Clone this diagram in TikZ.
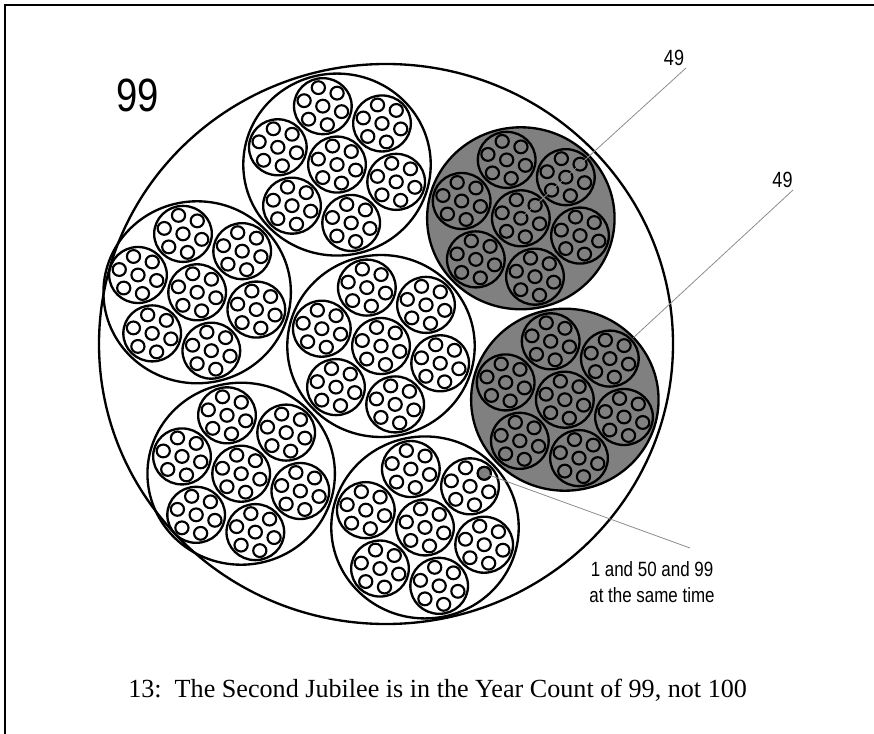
\documentclass[tikz,border=0pt]{standalone}
\usepackage{fontspec}
\setmainfont{Liberation Serif}
\newfontfamily\narrowfont[FakeStretch=0.82]{Liberation Sans}
\definecolor{midgray}{RGB}{128,128,128}
\definecolor{leadgray}{RGB}{140,140,140}
\begin{document}
\begin{tikzpicture}[x=0.75pt,y=-0.75pt,
  ring/.style={draw=black,line width=1.75pt},
  tinyring/.style={draw=black,line width=1.6pt},
  leader/.style={draw=leadgray,line width=0.6pt},
  bignum/.style={font=\narrowfont\fontsize{35}{38}\selectfont,inner sep=0pt,anchor=base},
  smallnum/.style={font=\narrowfont\fontsize{16.5}{18}\selectfont,inner sep=0pt,anchor=base},
  note/.style={font=\narrowfont\fontsize{15.5}{18}\selectfont,inner sep=0pt,anchor=base},
  caption/.style={font=\fontsize{19.6}{22}\selectfont,inner sep=0pt,anchor=base west}]
\useasboundingbox (0,0) rectangle (874,734);
\draw[line width=1.5pt] (5,734) -- (5,5) -- (874,5);
\begin{scope}[shift={(386,344)},xscale=1.025]
  \draw[ring] (0,0) circle (280);
\end{scope}
\begin{scope}[shift={(381,346)},xscale=1.03]
  \fill[midgray] (-43.25:186.4) circle (91);
  \fill[midgray] (16.75:186.4) circle (91);
  \foreach \a/\k in {0/0,-43.25/1,16.75/1,76.75/1,136.75/1,196.75/1,256.75/1}{
    \begin{scope}[shift={(\a:{\k*186.4})}]
      \draw[ring] (0,0) circle (91);
      \foreach \b/\m in {0/0,-43.25/1,16.75/1,76.75/1,136.75/1,196.75/1,256.75/1}{
        \begin{scope}[shift={(\b:{\m*60})}]
          \draw[ring] (0,0) circle (28);
          \foreach \c/\n in {0/0,-43.25/1,16.75/1,76.75/1,136.75/1,196.75/1,256.75/1}{
            \draw[tinyring] (\c:{\n*19}) circle (6.4);
          }
        \end{scope}
      }
    \end{scope}
  }
  \begin{scope}[shift={(76.75:186.4)}]
    \begin{scope}[shift={(-43.25:60)}]
      \filldraw[tinyring,fill=midgray] (-43.25:19) circle (6.4);
      \coordinate (gt) at (-43.25:19);
    \end{scope}
  \end{scope}
  \coordinate (g1) at (-43.25:186.4);
  \begin{scope}[shift={(16.75:186.4)}]
    \coordinate (g2) at (-43:91);
  \end{scope}
\end{scope}
\node[bignum] (n99) at (137.5,112) {99};
\node[smallnum] (l49a) at (674,66) {49};
\coordinate (l49aend) at (686,68);
\node[smallnum] (l49b) at (782.5,188) {49};
\coordinate (l49bend) at (793,190);
\node[note] (same1) at (652,576) {1 and 50 and 99};
\node[note] (same2) at (652,602) {at the same time};
\coordinate (sameend) at (690,548);
\draw[leader] (l49aend) -- (g1);
\draw[leader] (l49bend) -- (g2);
\draw[leader] (gt) -- (sameend);
\node[caption] (cap) at (128,697) {13:\ \ The Second Jubilee is in the Year Count of 99, not 100};
\end{tikzpicture}
\end{document}
